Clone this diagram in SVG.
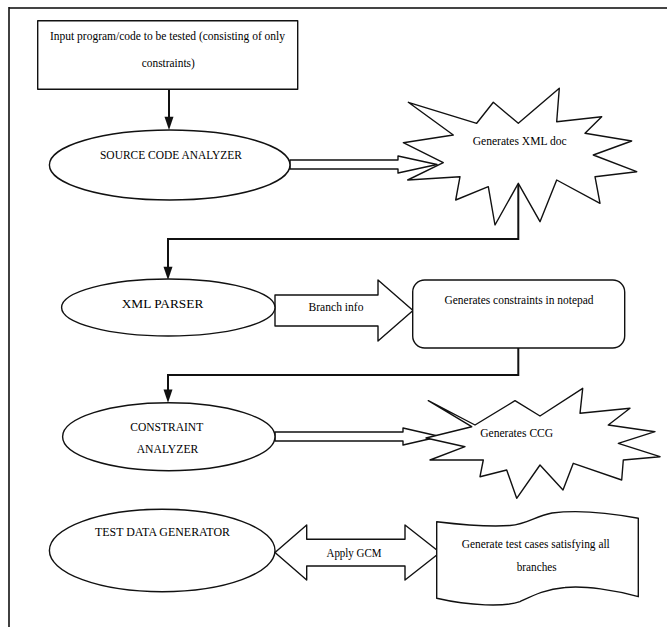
<svg xmlns="http://www.w3.org/2000/svg" width="667" height="627" viewBox="0 0 667 627">
<defs>
<style>
.s{fill:#fff;stroke:#111;stroke-width:1.4;stroke-linejoin:round}
.c{fill:none;stroke:#111;stroke-width:2}
.t{font-family:"Liberation Serif","Times New Roman",serif;font-size:12.5px;fill:#000;text-anchor:middle}
</style>
</defs>
<rect width="667" height="627" fill="#fff"/>
<g id="frame">
<line x1="9" y1="8" x2="667" y2="8" stroke="#444" stroke-width="2.2"/>
<line x1="9" y1="7" x2="9" y2="627" stroke="#111" stroke-width="1.6"/>
</g>
<g id="connectors">
<path class="c" d="M169,89.3 V120"/>
<path d="M164.5,116.7 L173.5,116.7 L169,130 Z" fill="#111"/>
<path class="c" d="M518.3,183.3 V239 H168 V270"/>
<path d="M163.5,266.7 L172.5,266.7 L168,280 Z" fill="#111"/>
<path class="c" d="M518.3,348 V375 H168 V393"/>
<path d="M163.5,389.5 L172.5,389.5 L168,402.7 Z" fill="#111"/>
<polygon class="s" points="290,160 398,160 398,156 437,164.5 398,173 398,169 290,169"/>
<polygon class="s" points="275,295 378,295 378,280 413,310.5 378,341 378,326 275,326"/>
<polygon class="s" points="275,432 403,432 403,428 440,436.5 403,445 403,441 275,441"/>
<polygon class="s" points="275,552.5 306.7,525 306.7,539.3 405,539.3 405,525 440,552.5 405,580 405,566 306.7,566 306.7,580"/>
<text class="t" x="336" y="311" textLength="55" lengthAdjust="spacingAndGlyphs">Branch info</text>
<text class="t" x="354" y="556.5" textLength="55" lengthAdjust="spacingAndGlyphs">Apply GCM</text>
</g>
<g id="input">
<rect class="s" x="37.7" y="20.7" width="260" height="68.6"/>
<text class="t" x="167.5" y="39.5" textLength="235" lengthAdjust="spacingAndGlyphs">Input program/code to be tested  (consisting of only</text>
<text class="t" x="168.3" y="67" textLength="53" lengthAdjust="spacingAndGlyphs">constraints)</text>
</g>
<g id="source-code-analyzer">
<ellipse class="s" cx="169.7" cy="165" rx="120.3" ry="35"/>
<text class="t" x="171" y="159" textLength="142" lengthAdjust="spacingAndGlyphs">SOURCE CODE ANALYZER</text>
</g>
<g id="xml-doc">
<polygon class="s" points="408.3,102.3 476.7,123.3 493.3,102.3 518.3,123.3 559.3,88.3 556.7,121.7 601.7,116.7 585,133.3 631.7,141 593.3,155 636.7,171.7 595,176.7 600,203.3 556.7,180 540,221.7 518.3,183.3 495,225 488.3,186.7 455.7,200 460,176.7 407.7,180 443.3,162.7 403.3,142.7 453.3,135"/>
<text class="t" x="519.7" y="145" textLength="94" lengthAdjust="spacingAndGlyphs">Generates XML doc</text>
</g>
<g id="xml-parser">
<ellipse class="s" cx="168.3" cy="307.5" rx="106.7" ry="28.5"/>
<text class="t" x="162.5" y="308" textLength="81.7" lengthAdjust="spacingAndGlyphs">XML PARSER</text>
</g>
<g id="notepad">
<rect class="s" x="412.7" y="280" width="212" height="68" rx="12"/>
<text class="t" x="519" y="304" textLength="149" lengthAdjust="spacingAndGlyphs">Generates constraints in notepad</text>
</g>
<g id="constraint-analyzer">
<ellipse class="s" cx="168.8" cy="436.7" rx="106.2" ry="34"/>
<text class="t" x="166.7" y="430.7" textLength="73" lengthAdjust="spacingAndGlyphs">CONSTRAINT</text>
<text class="t" x="167.5" y="453" textLength="61.6" lengthAdjust="spacingAndGlyphs">ANALYZER</text>
</g>
<g id="ccg">
<polygon class="s" points="428.3,400.7 475,425 515,400.7 540,416 582.7,388.3 580,413.3 630,408.3 608.3,425 655,431.7 618.3,443.3 660,456.7 623.3,460 621.7,480 573.3,463.3 563,490 540,465 516.7,498.3 506.7,470 480,476.7 483.3,460 430,460 465,446.7 426,438 471.7,426.7"/>
<text class="t" x="516.7" y="437.3" textLength="73" lengthAdjust="spacingAndGlyphs">Generates CCG</text>
</g>
<g id="test-data-generator">
<ellipse class="s" cx="162.2" cy="550.5" rx="112.8" ry="41.2"/>
<text class="t" x="162.5" y="535.7" textLength="135" lengthAdjust="spacingAndGlyphs">TEST DATA GENERATOR</text>
</g>
<g id="test-cases">
<path class="s" d="M436.7,521.7 C460,524.5 490,527 510,525.5 C528,524 535,516 552,513 C575,510 605,512 638.3,518.3 L638.3,596.7 C615,590 585,585.5 565,587.5 C545,589 532,596 520,601.7 C505,607 470,606 436.7,598.3 Z"/>
<text class="t" x="535.8" y="548" textLength="148" lengthAdjust="spacingAndGlyphs">Generate test cases satisfying all</text>
<text class="t" x="536.7" y="570.7" textLength="40" lengthAdjust="spacingAndGlyphs">branches</text>
</g>
</svg>
